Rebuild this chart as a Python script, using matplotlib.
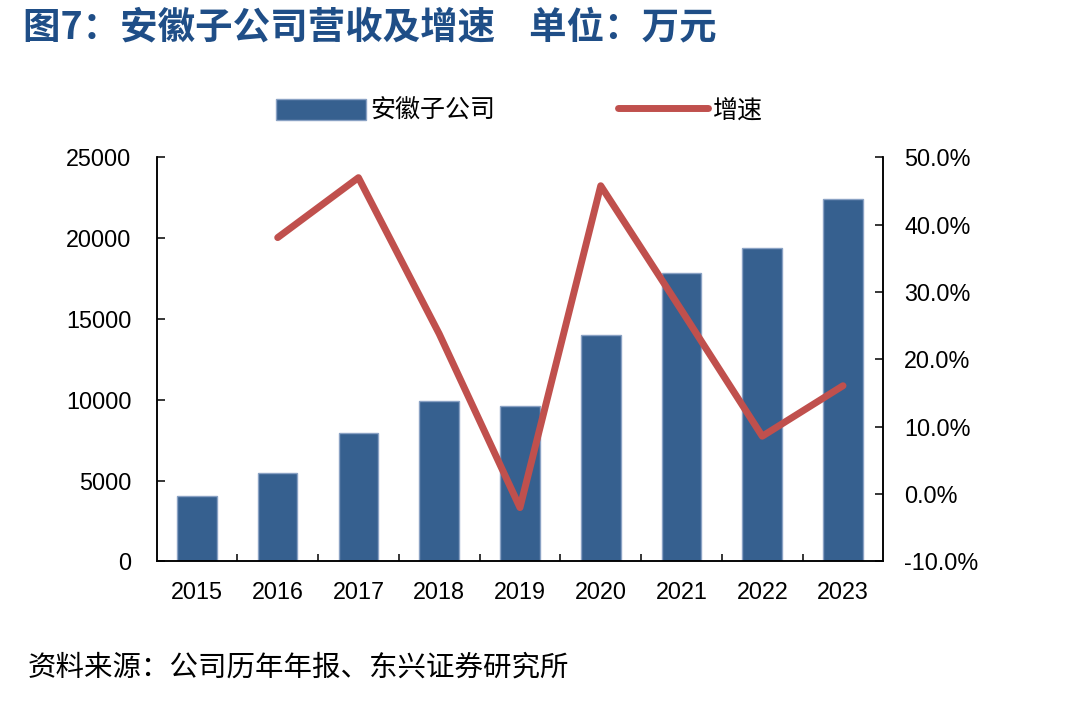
import numpy as np
import matplotlib
matplotlib.use('Agg')
import matplotlib.pyplot as plt
from matplotlib.ticker import FixedLocator, FuncFormatter

plt.rcParams['font.family'] = ['Liberation Sans', 'Noto Sans CJK SC']
plt.rcParams['axes.unicode_minus'] = False

years = ['2015', '2016', '2017', '2018', '2019', '2020', '2021', '2022', '2023']
revenue = [4080, 5500, 7980, 9900, 9650, 14000, 17850, 19370, 22450]
growth = [np.nan, 38.1, 47.0, 23.8, -2.0, 45.8, 27.3, 8.6, 16.1]

bar_color = '#36608F'
line_color = '#C0504D'
title_color = '#1F4E87'

fig = plt.figure(figsize=(10.73, 7.02), dpi=100)
ax = fig.add_axes([0.1459, 0.2002, 0.6774, 0.5755])
ax2 = ax.twinx()

x = np.arange(len(years))
ax.bar(x, revenue, width=0.49, color=bar_color, edgecolor='#8AA2C4',
       linewidth=1, label='安徽子公司', zorder=2)
ax2.plot(x, growth, color=line_color, linewidth=5, solid_capstyle='round',
         solid_joinstyle='round', label='增速')

ax.set_xlim(-0.5, len(years) - 0.5)
ax.set_ylim(0, 25000)
ax.set_yticks(range(0, 25001, 5000))
ax2.set_ylim(-10, 50)
ax2.set_yticks(range(-10, 51, 10))
ax2.yaxis.set_major_formatter(FuncFormatter(lambda v, p: '%.1f%%' % v))

ax.set_xticks(x)
ax.set_xticklabels(years)
ax.xaxis.set_minor_locator(FixedLocator(np.arange(0.5, len(years) - 1, 1)))
ax.tick_params(axis='x', which='major', length=0, pad=14, labelsize=16.8)
ax.tick_params(axis='x', which='minor', direction='in', length=5, width=1.1)
ax.tick_params(axis='y', direction='in', length=6, width=1.1, pad=18, labelsize=16.8)
ax2.tick_params(axis='y', direction='in', length=6, width=1.1, pad=15, labelsize=16.8)

for a in (ax, ax2):
    a.spines['top'].set_visible(False)
    for s in ('left', 'right', 'bottom'):
        a.spines[s].set_linewidth(1.1)

h1, l1 = ax.get_legend_handles_labels()
h2, l2 = ax2.get_legend_handles_labels()
fig.legend(h1 + h2, l1 + l2, loc='center', bbox_to_anchor=(0.484, 0.842),
           ncol=2, frameon=False, fontsize=18, handlelength=3.6,
           handleheight=0.9, handletextpad=0.2, columnspacing=4.9)

fig.text(0.021, 0.962, '图7：安徽子公司营收及增速    单位：万元', fontsize=27,
         fontweight='bold', color=title_color, va='center',
         family=['Noto Sans CJK SC'])
fig.text(0.026, 0.049, '资料来源：公司历年年报、东兴证券研究所', fontsize=20.5,
         style='italic', va='center', family=['Noto Sans CJK SC'])

fig.savefig('out.png', dpi=100)
